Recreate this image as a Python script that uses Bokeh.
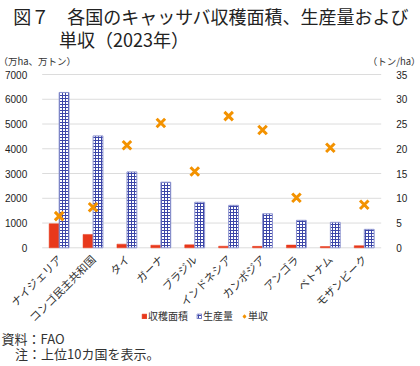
import math
from bokeh.plotting import figure
from bokeh.models import (Range1d, LinearAxis, FixedTicker, Label, Legend, LegendItem,
                          ColumnDataSource)
from bokeh.transform import dodge
from bokeh.embed import file_html
from bokeh.resources import INLINE

countries = ["ナイジェリア", "コンゴ民主共和国", "タイ", "ガーナ", "ブラジル",
             "インドネシア", "カンボジア", "アンゴラ", "ベトナム", "モザンビーク"]
area = [970, 540, 148, 105, 120, 64, 58, 110, 51, 86]          # 万ha
production = [6275, 4520, 3065, 2650, 1840, 1715, 1375, 1110, 1030, 745]  # 万トン
yield_ = [6.4, 8.2, 20.7, 25.2, 15.4, 26.6, 23.8, 10.1, 20.2, 8.7]  # トン/ha
left_ticks = [0, 1000, 2000, 3000, 4000, 5000, 6000, 7000]
right_ticks = [0, 5, 10, 15, 20, 25, 30, 35]

JP = "Noto Sans CJK JP"
NUM = "Liberation Sans"

# ---- layout (canvas pixels): the frame covers the whole canvas, the chart
# area sits inside it and the axes are pinned with fixed_location
CW, CH = 420, 366
PL, PR, PT, PB = 41.7, 380.7, 74.0, 247.3      # chart area edges, from top-left
n = len(countries)
cw = (PR - PL) / n
ymax_l, ymax_r = left_ticks[-1], right_ticks[-1]
ppu = (PB - PT) / ymax_l
y0 = -(CH - PB) / ppu
y1 = ymax_l + PT / ppu
x0 = -(PL + cw / 2) / cw
x1 = (n - 1) + (CW - (PL + cw * (n - 0.5))) / cw

xs = list(range(n))
src = ColumnDataSource(dict(x=xs, area=area, prod=production, y=yield_))

p = figure(width=CW, height=CH, x_range=Range1d(x0, x1), y_range=Range1d(y0, y1),
           output_backend="svg", toolbar_location=None, min_border=0,
           x_axis_location=None, y_axis_location=None)
p.outline_line_color = None
p.grid.visible = False
p.extra_y_ranges = {"r": Range1d(y0 * ymax_r / ymax_l, y1 * ymax_r / ymax_l)}

# grid lines across the chart area only
p.segment(x0=[-0.5] * len(left_ticks), x1=[n - 0.5] * len(left_ticks),
          y0=left_ticks, y1=left_ticks, line_color="#dcdcdc", line_width=1)

r_area = p.vbar(x=dodge("x", -0.15), top="area", width=0.29, source=src,
                fill_color="#e8381b", line_color="#e8381b", line_width=0.5)
r_prod = p.vbar(x=dodge("x", 0.146), top="prod", width=0.29, source=src,
                fill_color="white", line_color="#8c93cf", line_width=1,
                hatch_pattern="+", hatch_color="#3c46a8", hatch_scale=3, hatch_weight=1)
r_y = p.scatter(x="x", y="y", source=src, y_range_name="r", marker="x", size=12,
                line_color="#f39200", line_width=3)

la = LinearAxis(ticker=FixedTicker(ticks=left_ticks), fixed_location=-0.5,
                bounds=(0, ymax_l))
ra = LinearAxis(y_range_name="r", ticker=FixedTicker(ticks=right_ticks),
                fixed_location=n - 0.5, bounds=(0, ymax_r))
p.add_layout(la, "left")
p.add_layout(ra, "right")
for ax in (la, ra):
    ax.axis_line_color = None
    ax.major_tick_line_color = None
    ax.minor_tick_line_color = None
    ax.major_label_text_font = NUM
    ax.major_label_text_font_size = "10px"
    ax.major_label_text_color = "#222222"
    ax.major_label_standoff = 9

xa = LinearAxis(ticker=FixedTicker(ticks=xs), fixed_location=0,
                major_label_overrides={i: c for i, c in zip(xs, countries)})
p.add_layout(xa, "below")
xa.axis_line_color = None
xa.major_tick_line_color = None
xa.minor_tick_line_color = None
xa.major_label_orientation = math.pi / 4
xa.major_label_text_font = JP
xa.major_label_text_font_size = "11px"
xa.major_label_text_color = "#333333"
xa.major_label_standoff = 3


def lab(text, x, y, size, align="left", color="#222222"):
    # screen units: x from canvas left, y measured from canvas top
    p.add_layout(Label(x=x, y=CH - y, x_units="screen", y_units="screen", text=text,
                       text_font=JP, text_font_size=size, text_align=align,
                       text_baseline="middle", text_color=color))


lab("図７　各国のキャッサバ収穫面積、生産量および", 12.7, 15.5, "18px")
lab("単収（2023年）", 58.5, 38.5, "18px")
lab("（万ha、万トン）", -2, 60.5, "9.5px", color="#333333")
lab("（トン/ha）", CW, 60.5, "9.5px", align="right", color="#333333")
lab("資料：FAO", 1, 337.5, "13px", color="#333333")
lab("注：上位10カ国を表示。", 14.5, 352.5, "13px", color="#333333")

# legend location is its bottom-left corner, measured from the canvas bottom
legend = Legend(items=[LegendItem(label="収穫面積", renderers=[r_area]),
                       LegendItem(label="生産量", renderers=[r_prod]),
                       LegendItem(label="単収", renderers=[r_y])],
                location=(141, CH - 323), orientation="horizontal",
                glyph_width=6, glyph_height=6, label_height=6, label_standoff=1,
                spacing=8, padding=0, margin=0, border_line_color=None,
                background_fill_alpha=0, label_text_font=JP,
                label_text_font_size="10px", label_text_color="#333333")
p.add_layout(legend, "center")

open("out.html", "w").write(file_html(p, INLINE))
